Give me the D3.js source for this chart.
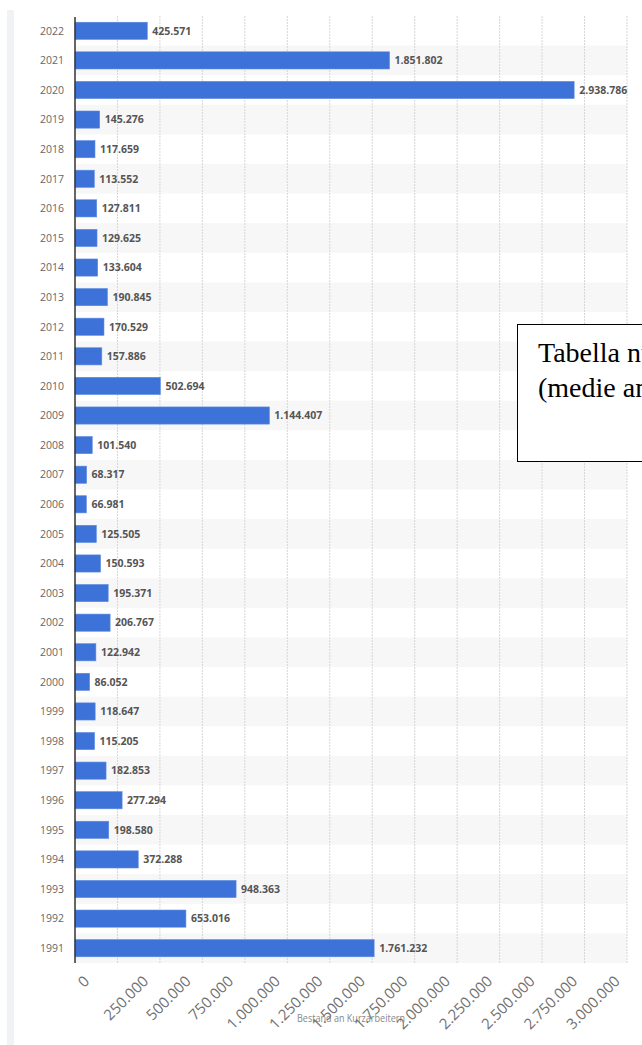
<!DOCTYPE html>
<html>
<head>
<meta charset="utf-8">
<script src="https://cdn.jsdelivr.net/npm/d3@7"></script>
<style>
  body{margin:0;background:#fff;overflow:hidden;}
  svg{display:block;font-family:"Open Sans",sans-serif;}
</style>
</head>
<body>
<script>
/* ---------- DATA ---------- */
const YEARS  = [2022,2021,2020,2019,2018,2017,2016,2015,2014,2013,2012,2011,2010,2009,2008,2007,
                2006,2005,2004,2003,2002,2001,2000,1999,1998,1997,1996,1995,1994,1993,1992,1991];
const VALUES = [425571,1851802,2938786,145276,117659,113552,127811,129625,133604,190845,170529,157886,502694,1144407,101540,68317,
                66981,125505,150593,195371,206767,122942,86052,118647,115205,182853,277294,198580,372288,948363,653016,1761232];
const X_TICKS = d3.range(0,3250001,250000);
const X_TITLE = "Bestand an Kurzarbeitern";
const NOTE_LINES = ["Tabella numero dei lavoratori","(medie annue)"];

/* ---------- LAYOUT ---------- */
const W=642, H=1045;
const PL=75, PR=627, PT=16, PB=963;
const BAR="#3d72d8";

const de = d3.formatLocale({decimal:",",thousands:".",grouping:[3],currency:["","€"]});
const fmt = de.format(",d");

const svg=d3.select("body").append("svg").attr("width",W).attr("height",H);

// left page strip
svg.append("rect").attr("x",7).attr("y",10).attr("width",7).attr("height",H-10).attr("fill","#f1f2f5");

const x=d3.scaleLinear().domain([0,3250000]).range([PL,PR]);
const y=d3.scaleBand().domain(YEARS).range([PT,PB]).paddingInner(0.42).paddingOuter(0.21);
const step=y.step();

// zebra rows
svg.append("g").selectAll("rect").data(YEARS.filter((d,i)=>i%2===1)).enter().append("rect")
  .attr("x",PL).attr("width",PR-PL)
  .attr("y",d=>y(d)-y.paddingInner()*step/2).attr("height",step)
  .attr("fill","#f7f7f7");

// grid
svg.append("g").selectAll("line").data(X_TICKS.slice(1)).enter().append("line")
  .attr("x1",d=>x(d)).attr("x2",d=>x(d)).attr("y1",PT).attr("y2",PB)
  .attr("stroke","#d6d6d6").attr("stroke-width",1).attr("stroke-dasharray","2,1");

// bars
const rows=YEARS.map((yr,i)=>({yr,v:VALUES[i]}));
svg.append("g").selectAll("rect").data(rows).enter().append("rect")
  .attr("x",PL).attr("y",d=>y(d.yr)).attr("height",y.bandwidth())
  .attr("width",d=>x(d.v)-PL).attr("fill",BAR)
  .attr("stroke","#5c8ae0").attr("stroke-width",0.6);

// value labels
svg.append("g").selectAll("text").data(rows).enter().append("text")
  .attr("x",d=>x(d.v)+5).attr("y",d=>y(d.yr)+y.bandwidth()/2).attr("dy","0.36em")
  .style("font-size","10.5px").style("font-weight",700).attr("fill","#555")
  .text(d=>fmt(d.v));

// year labels
svg.append("g").selectAll("text").data(YEARS).enter().append("text")
  .attr("x",64).attr("y",d=>y(d)+y.bandwidth()/2).attr("dy","0.36em")
  .attr("text-anchor","end").style("font-size","10.5px").attr("fill","#666")
  .text(d=>d);

// axis line
svg.append("line").attr("x1",PL).attr("x2",PL).attr("y1",PT+1).attr("y2",PB)
  .attr("stroke","#333").attr("stroke-width",1.5);

// x title
svg.append("text").attr("x",(PL+PR)/2).attr("y",1022).attr("text-anchor","middle")
  .attr("textLength",108).attr("lengthAdjust","spacingAndGlyphs")
  .style("font-size","10px").attr("fill","#888").text(X_TITLE);

// rotated tick labels
const tl=svg.append("g").selectAll("text").data(X_TICKS.slice(0,-1)).enter().append("text")
  .attr("text-anchor","middle").attr("dominant-baseline","central")
  .style("font-size","15px").attr("fill","#707070")
  .text(d=>fmt(d));
tl.each(function(d){
  const L=this.getComputedTextLength(), h=11;
  const bb=(L+h)*Math.SQRT1_2;
  d3.select(this).attr("transform",`translate(${x(d)+8},${974+bb/2}) rotate(-45)`);
});

// overlaid note box
svg.append("rect").attr("x",517.5).attr("y",324.5).attr("width",200).attr("height",137)
  .attr("fill","#fff").attr("stroke","#000").attr("stroke-width",1);
svg.append("g").selectAll("text").data(NOTE_LINES).enter().append("text")
  .attr("x",538).attr("y",(d,i)=>362+i*35)
  .style("font-family","'Liberation Serif','Times New Roman',serif").style("font-size","28px")
  .attr("fill","#000").text(d=>d);
</script>
</body>
</html>
